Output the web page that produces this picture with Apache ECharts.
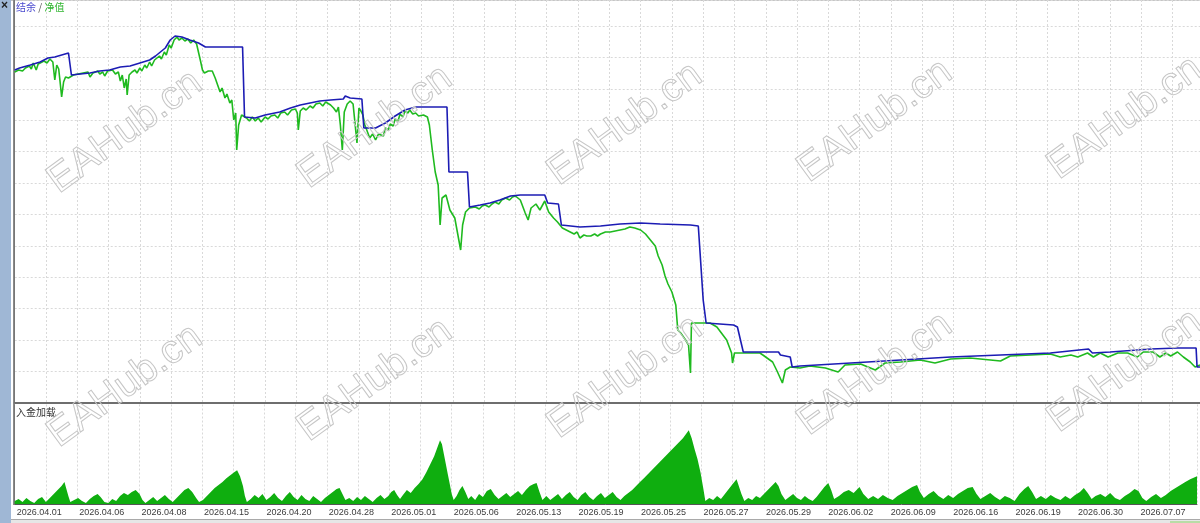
<!DOCTYPE html>
<html>
<head>
<meta charset="utf-8">
<script src="https://cdn.jsdelivr.net/npm/echarts@6/dist/echarts.min.js"></script>
<style>
html,body{margin:0;padding:0;background:#fff;}
#chart{width:1200px;height:523px;}
</style>
</head>
<body>
<div id="chart"></div>
<script>
// x = trade number, labels every 64 trades
const dateLabels = ['2026.04.01','2026.04.06','2026.04.08','2026.04.15','2026.04.20','2026.04.28','2026.05.01','2026.05.06','2026.05.13','2026.05.19','2026.05.25','2026.05.27','2026.05.29','2026.06.02','2026.06.09','2026.06.16','2026.06.19','2026.06.30','2026.07.07'];

// balance [trade, value]
const balance = [
[0,3328],[5,3348],[16,3378],[26,3408],[34,3448],[41,3458],[48,3478],[55,3498],[58,3278],[67,3288],[77,3298],[87,3318],[97,3328],[108,3358],[118,3368],[128,3398],[138,3428],[144,3468],[149,3508],[154,3548],[159,3628],[164,3668],[171,3658],[179,3628],[188,3598],[195,3558],[233,3558],[235,2858],[246,2848],[256,2878],[271,2908],[282,2948],[292,2978],[302,2998],[312,3018],[323,3028],[336,3038],[338,3068],[343,3048],[355,3038],[357,2748],[369,2748],[379,2798],[389,2868],[399,2928],[410,2958],[442,2958],[444,2308],[463,2308],[465,1958],[476,1978],[486,1998],[496,2028],[507,2068],[517,2078],[542,2078],[545,1998],[556,1988],[559,1778],[578,1758],[599,1768],[619,1788],[640,1798],[660,1788],[691,1778],[699,1768],[704,1028],[707,798],[735,778],[739,758],[745,508],[781,508],[783,478],[793,458],[795,358],[803,368],[855,398],[906,428],[957,458],[1008,478],[1059,498],[1098,538],[1102,498],[1120,508],[1162,538],[1189,548],[1208,548],[1209,358],[1212,358]
];

// equity [trade, value]
const equity = [
[0,3308],[4,3328],[8,3318],[11,3348],[15,3368],[17,3338],[19,3398],[22,3328],[24,3388],[26,3378],[30,3418],[33,3398],[36,3438],[39,3408],[41,3228],[43,3378],[45,3338],[46,3248],[48,3058],[50,3208],[52,3258],[55,3248],[57,3258],
[60,3278],[62,3258],[65,3288],[67,3268],[70,3298],[72,3278],[75,3308],[77,3258],[80,3298],[82,3288],[85,3318],[87,3288],[90,3308],[92,3268],[95,3318],[97,3298],[100,3328],[103,3288],[106,3308],[108,3218],[110,3278],[112,3148],[114,3238],[115,3078],[117,3278],[120,3308],
[123,3328],[125,3298],[128,3348],[130,3318],[133,3378],[135,3348],[138,3408],[140,3368],[143,3428],[145,3408],[148,3468],[150,3438],[153,3508],[155,3478],[158,3578],[160,3548],[163,3628],[166,3658],[168,3628],[171,3648],[174,3618],[177,3638],[180,3598],[183,3628],[186,3588],[188,3568],
[190,3418],[192,3328],[194,3298],[196,3278],[198,3318],[200,3298],[202,3318],[205,3248],[207,3268],[210,3108],[212,3148],[215,3048],[217,3088],[220,2998],[222,3028],[224,2828],[226,2898],[227,2528],[229,2778],[232,2878],
[237,2848],[240,2818],[243,2858],[246,2818],[249,2848],[252,2808],[256,2858],[259,2838],[262,2868],[266,2878],[269,2848],[272,2898],[276,2908],[279,2878],[283,2928],[287,2938],[289,2898],[290,2728],[292,2918],[295,2948],[298,2928],[302,2968],[305,2948],[308,2988],[312,2998],[315,2968],[318,3008],[323,2978],[326,2948],[329,2908],[331,2958],[333,2778],[335,2528],[337,2908],[340,2988],[343,3018],[346,2988],[348,2968],[350,2598],[352,2948],[354,2918],[356,2878],
[358,2778],[360,2728],[363,2648],[366,2688],[369,2628],[372,2688],[374,2698],[377,2668],[379,2748],[382,2728],[384,2788],[387,2768],[389,2838],[392,2818],[394,2888],[397,2858],[399,2918],[402,2898],[404,2928],[407,2888],[410,2898],[413,2868],[415,2848],[418,2878],[420,2888],[422,2858],[424,2778],
[427,2528],[430,2308],[433,2178],[435,1778],[437,2048],[441,2078],[445,1928],[450,1848],[456,1528],[458,1778],[461,1908],[465,1948],
[471,1958],[475,1938],[478,1968],[481,1978],[485,1958],[488,1988],[491,2008],[495,1988],[498,2028],[502,2048],[506,2028],[509,2058],[512,2068],[517,2028],[522,1898],[525,1828],[528,1948],[533,1988],[537,1928],[542,2018],[546,1908],[551,1848],[555,1808],
[560,1748],[564,1728],[568,1708],[572,1688],[575,1708],[578,1648],[582,1678],[585,1668],[589,1668],[593,1688],[596,1668],[599,1688],[604,1708],[609,1708],[614,1718],[619,1728],[624,1738],[629,1758],[634,1748],[640,1728],
[645,1688],[650,1628],[655,1568],[658,1468],[662,1378],[665,1268],[668,1188],[672,1108],[676,978],[678,728],[681,698],[686,628],[689,578],[691,298],[692,798],[711,798],[718,758],[728,628],[733,498],[734,398],[736,498],[762,498],[765,478],[775,408],[780,308],[785,198],[788,328],[793,358],
[803,348],[813,368],[829,348],[842,308],[849,378],[865,388],[880,328],[890,398],[906,408],[926,428],[941,398],[957,438],[977,448],[1008,418],[1018,468],[1039,478],[1059,488],[1069,458],[1080,478],[1087,458],[1097,498],[1103,458],[1110,498],[1118,458],[1128,498],[1138,498],[1148,458],[1154,508],[1164,508],[1171,458],[1177,498],[1182,468],[1189,508],[1195,458],[1202,408],[1207,358],[1212,378]
];

// deposit load (%) [trade, value]
const load = [
[0,3],[4,5],[8,2],[12,6],[16,3],[20,1],[24,5],[28,7],[32,2],[36,6],[40,10],[44,14],[48,18],[51,22],[53,15],[55,8],[57,2],[61,4],[65,6],[69,3],[73,1],[77,5],[81,8],[85,10],[88,7],[92,2],[96,1],[100,5],[104,3],[108,8],[112,11],[116,9],[120,12],[124,14],[128,10],[131,4],[134,1],[138,4],[142,7],[146,3],[150,6],[154,9],[158,5],[162,2],[166,6],[170,10],[174,14],[178,16],[182,12],[186,6],[189,2],[193,4],[197,8],[201,12],[205,16],[209,19],[213,22],[217,26],[221,29],[225,32],[228,34],[231,28],[234,18],[236,8],[238,2],[242,5],[246,9],[250,6],[254,10],[258,4],[262,7],[266,11],[270,6],[274,3],[278,8],[282,12],[286,7],[290,4],[294,9],[298,5],[302,3],[306,8],[310,5],[314,2],[318,6],[322,9],[326,12],[330,15],[333,16],[336,10],[339,4],[343,6],[347,3],[351,7],[355,4],[359,8],[363,5],[367,2],[371,6],[375,9],[379,5],[383,8],[386,12],[389,14],[392,9],[395,5],[398,9],[402,14],[406,11],[410,16],[414,20],[418,25],[422,32],[426,40],[430,48],[433,56],[436,64],[438,60],[440,50],[442,40],[444,30],[446,20],[448,10],[450,4],[453,8],[456,14],[459,18],[462,12],[465,5],[468,8],[472,4],[476,10],[480,7],[484,13],[488,15],[492,9],[496,5],[500,8],[504,11],[508,7],[512,10],[516,13],[520,9],[524,14],[528,18],[532,20],[535,21],[538,12],[541,4],[545,8],[549,4],[553,7],[557,10],[561,5],[565,9],[569,12],[573,7],[577,4],[581,9],[585,12],[589,7],[593,4],[597,8],[601,11],[605,6],[609,9],[613,12],[617,7],[621,4],[625,8],[629,11],[633,14],[637,18],[641,22],[645,26],[649,30],[653,34],[657,38],[661,42],[665,46],[669,50],[673,54],[677,58],[681,62],[685,66],[688,70],[691,74],[694,66],[697,55],[700,45],[703,32],[706,15],[708,3],[712,6],[716,4],[720,8],[724,5],[728,10],[732,15],[736,20],[740,25],[742,26],[745,10],[748,3],[752,6],[756,4],[760,8],[764,6],[768,10],[772,14],[776,18],[780,22],[783,18],[786,10],[790,4],[794,7],[798,10],[802,6],[806,4],[810,8],[814,5],[818,3],[822,7],[826,12],[830,17],[834,21],[837,14],[840,5],[845,8],[850,12],[855,14],[860,11],[866,17],[870,10],[875,5],[880,8],[885,5],[890,9],[895,6],[900,4],[905,8],[910,11],[915,14],[920,17],[925,19],[928,12],[932,6],[937,10],[942,13],[947,8],[952,5],[957,9],[962,6],[967,10],[972,13],[977,16],[982,17],[986,10],[990,5],[995,8],[1000,11],[1005,7],[1010,4],[1015,8],[1020,6],[1025,3],[1030,10],[1035,15],[1039,18],[1043,12],[1047,5],[1052,8],[1057,5],[1062,9],[1067,6],[1072,4],[1077,8],[1082,5],[1087,9],[1092,12],[1096,16],[1100,11],[1104,5],[1108,8],[1113,10],[1118,7],[1123,11],[1128,6],[1133,4],[1138,8],[1143,11],[1148,15],[1152,13],[1156,6],[1160,3],[1165,7],[1170,10],[1175,6],[1180,9],[1185,13],[1190,16],[1195,19],[1200,22],[1205,25],[1212,28]
];

const watermarkText = 'EAHub.cn';
const watermarkSpots = [[125,132],[375,127],[625,124],[875,121],[1125,118],[125,386],[375,380],[625,377],[875,374],[1125,371]];

const chart = echarts.init(document.getElementById('chart'), null, {renderer:'canvas'});
const gridLine = {show:true, lineStyle:{color:'#d9d9d9', type:[2,2], width:1}};
const graphics = [
  {type:'rect', shape:{x:0,y:0,width:11,height:523}, style:{fill:'#9fb7d5'}, z:-10, silent:true},
  {type:'text', x:1, y:0, style:{text:'×', font:'bold 12px "Liberation Sans"', fill:'#222'}, silent:true},
  {type:'line', shape:{x1:11,y1:0.5,x2:1200,y2:0.5}, style:{stroke:'#c4c4c4',lineWidth:1}, silent:true},
  {type:'line', shape:{x1:13.5,y1:0,x2:13.5,y2:505}, style:{stroke:'#8a8a8a',lineWidth:1}, silent:true},
  {type:'rect', shape:{x:11,y:519,width:1189,height:4}, style:{fill:'#e6e6e6'}, silent:true},
  {type:'line', shape:{x1:11,y1:519.5,x2:1200,y2:519.5}, style:{stroke:'#a9a9a9',lineWidth:1}, silent:true},
  {type:'rect', shape:{x:1170,y:521,width:30,height:2}, style:{fill:'#b9dca6'}, silent:true}
];
watermarkSpots.forEach(p => {
  graphics.push({
    type:'text', x:p[0], y:p[1], rotation:0.63, z:100, silent:true,
    style:{text:watermarkText, font:'40px "Liberation Sans"', fill:'rgba(255,255,255,0)', stroke:'#c6c6c6', lineWidth:1, align:'center', verticalAlign:'middle', textAlign:'center', textVerticalAlign:'middle'}
  });
});

const xLabelFmt = v => (v % 64 === 0 && dateLabels[v/64] !== undefined) ? dateLabels[v/64] : '';

chart.setOption({
  animation:false,
  backgroundColor:'#ffffff',
  title:[
    {text:'{b|结余} {s|/} {g|净值}', left:16, top:2, padding:0,
     textStyle:{fontSize:10, fontFamily:'"Noto Sans CJK SC"', fontWeight:'normal',
       rich:{b:{color:'#4b4bcf',fontSize:10,fontFamily:'"Noto Sans CJK SC"'}, s:{color:'#555',fontSize:10}, g:{color:'#2fb52f',fontSize:10,fontFamily:'"Noto Sans CJK SC"'}}}},
    {text:'入金加载', left:16, top:407, padding:0, textStyle:{fontSize:10, color:'#333', fontWeight:'normal', fontFamily:'"Noto Sans CJK SC"'}}
  ],
  graphic: graphics,
  grid:[
    {left:14.7, top:0, right:0, height:402.8},
    {left:14.7, top:404.5, right:0, height:99.5}
  ],
  xAxis:[
    {type:'value', gridIndex:0, min:0, max:1212, interval:32,
     axisLine:{show:true, onZero:false, lineStyle:{color:'#6e6e6e', width:2}},
     axisTick:{show:false}, axisLabel:{show:false}, splitLine:gridLine},
    {type:'value', gridIndex:1, min:0, max:1212, interval:32,
     axisLine:{show:true, onZero:false, lineStyle:{color:'#555', width:1}},
     axisTick:{show:false},
     axisLabel:{show:true, formatter:xLabelFmt, align:'left', margin:4, padding:[0,0,0,2], color:'#3c3c3c', fontSize:9, fontFamily:'"Liberation Sans"'},
     splitLine:gridLine}
  ],
  yAxis:[
    {type:'value', gridIndex:0, min:0, max:4028, interval:314,
     axisLine:{show:true, lineStyle:{color:'#777'}}, axisTick:{show:false}, axisLabel:{show:false}, splitLine:gridLine},
    {type:'value', gridIndex:1, min:0, max:100,
     axisLine:{show:true, lineStyle:{color:'#777'}}, axisTick:{show:false}, axisLabel:{show:false}, splitLine:{show:false}}
  ],
  series:[
    {name:'净值', type:'line', xAxisIndex:0, yAxisIndex:0, data:equity, showSymbol:false, symbol:'none', lineStyle:{color:'#1fba1f', width:1.6}, z:3},
    {name:'结余', type:'line', xAxisIndex:0, yAxisIndex:0, data:balance, showSymbol:false, symbol:'none', lineStyle:{color:'#1c1cb4', width:1.6}, z:4},
    {name:'入金加载', type:'line', xAxisIndex:1, yAxisIndex:1, data:load, showSymbol:false, symbol:'none', lineStyle:{width:0, color:'#0fae0f'}, areaStyle:{color:'#0fae0f', opacity:1}, z:3}
  ]
});
</script>
</body>
</html>
